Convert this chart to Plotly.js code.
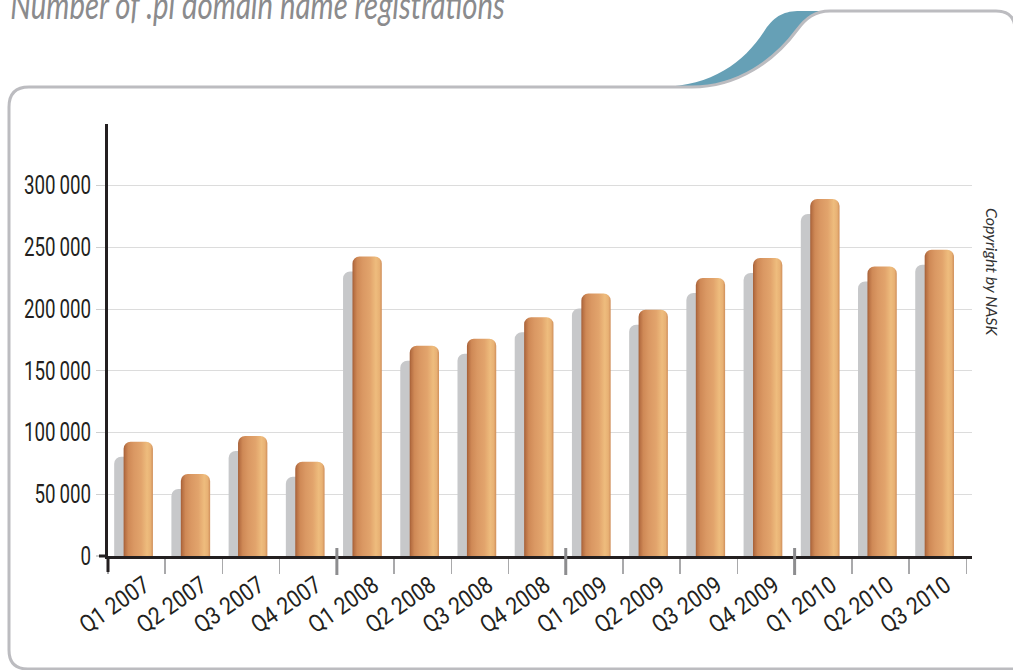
<!DOCTYPE html>
<html>
<head>
<meta charset="utf-8">
<script src="https://cdn.plot.ly/plotly-3.0.1.min.js"></script>
<style>
  html, body { margin: 0; padding: 0; background: #ffffff; }
  #chart { width: 1013px; height: 670px; }
</style>
</head>
<body>
<svg width="0" height="0" style="position:absolute">
  <defs>
    <linearGradient id="barGrad" x1="0" y1="0" x2="1" y2="0">
      <stop offset="0" stop-color="#a45e36"/>
      <stop offset="0.06" stop-color="#b97245"/>
      <stop offset="0.16" stop-color="#cf8956"/>
      <stop offset="0.35" stop-color="#da9863"/>
      <stop offset="0.60" stop-color="#e2a46c"/>
      <stop offset="0.80" stop-color="#eebc7d"/>
      <stop offset="0.92" stop-color="#e8b174"/>
      <stop offset="1" stop-color="#cf8e5a"/>
    </linearGradient>
  </defs>
</svg>
<div id="chart"></div>
<script>
// ---- data ----
const categories = ["Q1 2007", "Q2 2007", "Q3 2007", "Q4 2007",
                    "Q1 2008", "Q2 2008", "Q3 2008", "Q4 2008",
                    "Q1 2009", "Q2 2009", "Q3 2009", "Q4 2009",
                    "Q1 2010", "Q2 2010", "Q3 2010"];
const registrations = [92600, 66500, 97300, 76400,
                       242700, 170300, 176000, 193500,
                       212700, 199500, 225200, 241400,
                       289200, 234600, 248100];
const yTickValues = [0, 50000, 100000, 150000, 200000, 250000, 300000];
const yTickLabels = ["0", "50\u2009000", "100\u2009000", "150\u2009000",
                     "200\u2009000", "250\u2009000", "300\u2009000"];
const chartTitle = "Number of .pl domain name registrations";
const copyrightText = "Copyright by NASK";

// ---- geometry / style ----
const W = 1013, H = 670;
const M = {l: 108, r: 41, t: 124, b: 114};
const PW = W - M.l - M.r, PH = H - M.t - M.b;
const YMAX = 350000;
const unitPerPx = YMAX / PH;
const px = x => (x - M.l) / PW;
const py = y => (M.t + PH - y) / PH;
function pathFrom(cmds) {
  return cmds.map(c => {
    const [op, ...pts] = c;
    let s = op;
    for (let i = 0; i < pts.length; i += 2) s += ' ' + px(pts[i]).toFixed(5) + ',' + py(pts[i + 1]).toFixed(5);
    return s;
  }).join(' ');
}

const barW = 0.512, barOff = -0.227;
const BAR_COLOR = '#dc9b66';
const labelFont = "Roboto, 'Liberation Sans', sans-serif";

const traces = [
  { // shadow (main subplot, drawn first, shifted down ~15px)
    type: 'bar', x: categories, y: registrations, xaxis: 'x', yaxis: 'y',
    width: barW, offset: barOff - 0.165,
    marker: {color: '#c7c8ca', cornerradius: 7, line: {width: 0}},
    hoverinfo: 'skip', showlegend: false
  },
  { // main orange bars
    type: 'bar', x: categories, y: registrations, xaxis: 'x', yaxis: 'y2',
    width: barW, offset: barOff,
    marker: {color: BAR_COLOR, cornerradius: 7, line: {width: 0}},
    hoverinfo: 'skip', showlegend: false
  }
];

// year boundaries
const yearTicks = [];
for (let i = 1; i < categories.length; i++) {
  if (categories[i].slice(3) !== categories[i - 1].slice(3)) yearTicks.push(i - 0.5);
}

const shapes = [];
shapes.push({ // teal swoosh
  type: 'path', xref: 'paper', yref: 'paper', layer: 'below',
  path: pathFrom([['M', 662, 87], ['C', 712, 86, 745, 62, 765, 30], ['C', 775, 15, 785, 11, 800, 11],
                  ['L', 830, 11], ['C', 815, 11, 806, 18, 797, 30], ['C', 775, 60, 738, 87, 692, 87], ['Z']]),
  fillcolor: '#66a0b6', line: {width: 0}
});
shapes.push({ // frame
  type: 'path', xref: 'paper', yref: 'paper', layer: 'below',
  path: pathFrom([['M', 28, 669], ['Q', 9, 669, 9, 650], ['L', 9, 107], ['Q', 9, 87, 29, 87],
                  ['L', 692, 87], ['C', 738, 87, 775, 60, 797, 30], ['C', 806, 18, 815, 11, 830, 11],
                  ['L', 996, 11], ['Q', 1015, 11, 1015, 30], ['L', 1015, 669], ['Z']]),
  line: {color: '#bcbcc0', width: 3}
});
shapes.push({type: 'line', xref: 'paper', yref: 'paper', x0: 0, x1: 0, y0: 0, y1: py(572),
             line: {color: '#231f20', width: 3}});
shapes.push({type: 'line', xref: 'paper', yref: 'paper', x0: px(99), x1: 0, y0: 0, y1: 0,
             line: {color: '#231f20', width: 3}});
yearTicks.forEach(v => {
  shapes.push({type: 'line', xref: 'x', yref: 'paper', x0: v, x1: v, y0: py(548), y1: py(575),
               line: {color: '#8d8d8f', width: 3}});
});

const layout = {
  width: W, height: H,
  margin: M,
  paper_bgcolor: '#ffffff', plot_bgcolor: 'rgba(0,0,0,0)',
  showlegend: false,
  xaxis: {
    type: 'category', range: [-0.5, 14.6], fixedrange: true,
    showgrid: false, zeroline: false,
    showline: true, linecolor: '#231f20', linewidth: 3,
    ticks: 'outside', tickson: 'boundaries', ticklen: 15, tickwidth: 1.5, tickcolor: '#a9a9ab',
    tickangle: -35, ticklabelshift: 8, ticklabelstandoff: 3,
    tickfont: {family: labelFont, size: 24, color: '#231f20'}
  },
  yaxis: {
    range: [15 * unitPerPx, YMAX + 15 * unitPerPx], visible: false, fixedrange: true
  },
  yaxis2: {
    overlaying: 'y', side: 'left', range: [0, YMAX], fixedrange: true,
    tickvals: yTickValues, ticktext: yTickLabels,
    showgrid: true, gridcolor: '#dcdcdc', gridwidth: 1.2,
    zeroline: false,
    showline: true, linecolor: '#231f20', linewidth: 3,
    ticks: 'outside', ticklen: 9, tickwidth: 1.2, tickcolor: '#cfcfcf',
    tickfont: {family: labelFont, size: 25, color: '#231f20'}
  },
  shapes: shapes,
  annotations: [
    {text: chartTitle, xref: 'paper', yref: 'paper', x: px(8), y: py(4), xanchor: 'left', yanchor: 'middle',
     showarrow: false, font: {family: 'Lato, "Open Sans", sans-serif', size: 38, color: '#8b8b8d', style: 'italic'}},
    {text: copyrightText, xref: 'paper', yref: 'paper', x: px(993), y: py(272), xanchor: 'center', yanchor: 'middle',
     textangle: 90, showarrow: false, font: {family: 'Lato, "Open Sans", sans-serif', size: 16, color: '#333333', style: 'italic'}}
  ]
};

// horizontal condensing of text (the reference uses a condensed face)
function condense(el, factor, pivot) {
  const bb = el.getBBox();
  const anchor = el.getAttribute('text-anchor') || 'start';
  let cx;
  if (pivot === 'left' || anchor === 'start') cx = bb.x;
  else if (anchor === 'end') cx = bb.x + bb.width;
  else cx = bb.x + bb.width / 2;
  const prev = el.getAttribute('transform') || '';
  el.setAttribute('transform', prev + ' translate(' + cx + ',0) scale(' + factor + ',1) translate(' + (-cx) + ',0)');
}

Plotly.newPlot('chart', traces, layout, {staticPlot: true, displayModeBar: false}).then(gd => {
  gd.querySelectorAll('.y2tick text').forEach(t => condense(t, 0.75));
  gd.querySelectorAll('.xtick text').forEach(t => condense(t, 0.88));
  const ann = gd.querySelectorAll('.annotation-text');
  if (ann[0]) {
    const w = ann[0].getBBox().width;
    condense(ann[0], Math.min(1, 495 / w), 'left');
  }
  gd.querySelectorAll('.bars path').forEach(p => {
    const f = p.style.fill.replace(/\s/g, '');
    if (f === 'rgb(220,155,102)') p.style.fill = 'url(#barGrad)';
  });
});
</script>
</body>
</html>
